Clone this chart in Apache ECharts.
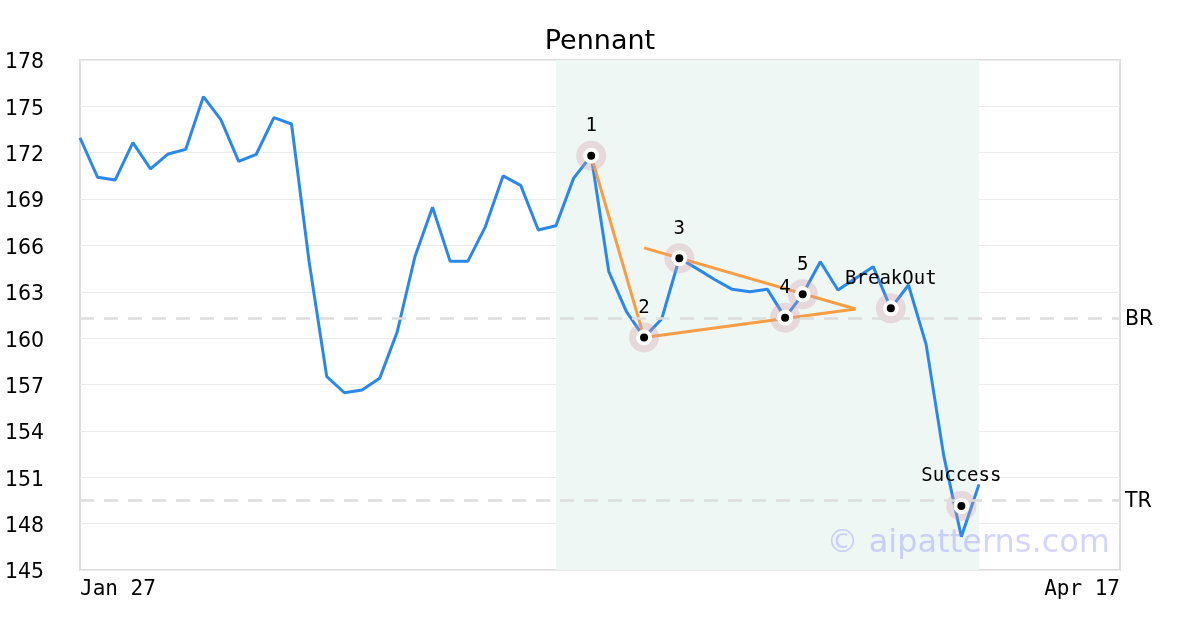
<!DOCTYPE html>
<html>
<head>
<meta charset="utf-8">
<script src="https://cdn.jsdelivr.net/npm/echarts@6/dist/echarts.min.js"></script>
<style>html,body{margin:0;padding:0;background:#fff}#c{width:1200px;height:630px}</style>
</head>
<body>
<div id="c"></div>
<script>
// ---- data ----
const categoryCount = 60;
const categories = Array.from({length: categoryCount}, (_, i) => 'D' + i);
const xTickLabels = {0: 'Jan 27', 59: 'Apr 17'};
const prices = [
  172.97, 170.41, 170.24, 172.65, 170.95, 171.92, 172.22, 175.63, 174.12, 171.44,
  171.90, 174.27, 173.86, 164.93, 157.51, 156.47, 156.65, 157.40, 160.42, 165.27,
  168.47, 164.97, 164.97, 167.22, 170.50, 169.89, 167.00, 167.28, 170.34, 171.81,
  164.30, 161.72, 160.05, 161.24, 165.17, 164.50, 163.80, 163.16, 163.01, 163.16,
  161.33, 162.84, 164.95, 163.12, 163.87, 164.63, 161.93, 163.44, 159.60, 152.40,
  147.15, 150.54
];
const pointIdx = [29, 32, 34, 40, 41, 46, 50];
const pointVal = [171.81, 160.05, 165.17, 161.33, 162.84, 161.93, 149.14];
const pointLabels = ['1', '2', '3', '4', '5', 'BreakOut', 'Success'];
const poleLine = [[29, 171.81], [32, 160.05]];
const lowerLine = [[32, 160.05], [44, 161.89]];
const upperLine = [[32, 165.84], [44, 161.89]];
const levelNames = ['BR', 'TR'];
const levelValues = [161.31, 149.53];
const shadeRange = [27, 51];
const yTicks = {min: 145, max: 178, interval: 3};

// ---- chart ----
const chart = echarts.init(document.getElementById('c'), null, {renderer: 'canvas'});
const points = pointIdx.map((x, i) => [x, pointVal[i]]);
const mono = 'DejaVu Sans Mono';
const sans = 'DejaVu Sans';
const orange = '#f99d45';

const option = {
  animation: false,
  backgroundColor: '#fff',
  title: {
    text: 'Pennant', left: 'center', top: 23,
    textStyle: {fontFamily: sans, fontWeight: 'normal', fontSize: 27, color: '#000'}
  },
  grid: {left: 80, right: 80, top: 60, bottom: 60, show: true, borderColor: '#dddddd', borderWidth: 2, backgroundColor: 'transparent'},
  xAxis: {
    type: 'category', data: categories, boundaryGap: false,
    axisLine: {show: false}, axisTick: {show: false}, splitLine: {show: false},
    axisLabel: {
      interval: 0, margin: 9, fontFamily: mono, fontSize: 21, color: '#000',
      alignMinLabel: 'left', alignMaxLabel: 'right',
      formatter: (v, i) => xTickLabels[i] || ''
    }
  },
  yAxis: {
    type: 'value', min: yTicks.min, max: yTicks.max, interval: yTicks.interval,
    axisLine: {show: false}, axisTick: {show: false},
    splitLine: {show: true, lineStyle: {color: '#eaeaea', width: 1}},
    axisLabel: {align: 'left', verticalAlign: 'top', lineHeight: 6, margin: 75, fontFamily: sans, fontSize: 20.5, color: '#000'}
  },
  graphic: [{
    type: 'text', right: 90, top: 528, z: 100,
    style: {text: '\u00a9 aipatterns.com', font: '32px "DejaVu Sans"', fill: 'rgba(120,120,250,0.32)'}
  }],
  series: [
    {
      type: 'line', data: prices, showSymbol: false, symbol: 'none',
      lineStyle: {color: '#2b87e8', width: 3}, z: 2,
      markArea: {
        silent: true,
        itemStyle: {color: '#eef7f3'},
        data: [[{xAxis: shadeRange[0]}, {xAxis: shadeRange[1]}]]
      },
      markLine: {
        silent: true, symbol: 'none',
        lineStyle: {color: '#dddddd', width: 2.5, type: [14, 10]},
        label: {position: 'end', distance: 5, fontFamily: sans, fontSize: 20.5, color: '#000', verticalAlign: 'top', lineHeight: 4, formatter: p => p.name},
        data: levelValues.map((v, i) => ({yAxis: v, name: levelNames[i]}))
      }
    },
    {type: 'line', data: poleLine, symbol: 'none', lineStyle: {color: orange, width: 3}, z: 3},
    {type: 'line', data: lowerLine, symbol: 'none', lineStyle: {color: orange, width: 3}, z: 3},
    {type: 'line', data: upperLine, symbol: 'none', lineStyle: {color: orange, width: 3}, z: 3},
    {type: 'scatter', data: points, symbol: 'circle', symbolSize: 30, itemStyle: {color: 'rgba(210,150,170,0.3)', opacity: 1}, z: 4},
    {type: 'scatter', data: points, symbol: 'circle', symbolSize: 16, itemStyle: {color: '#ffffff', opacity: 1}, z: 5},
    {
      type: 'scatter', data: points, symbol: 'circle', symbolSize: 8, itemStyle: {color: '#000', opacity: 1}, z: 6,
      label: {
        show: true, position: 'top', distance: 16, fontFamily: mono, fontSize: 19, color: '#000',
        formatter: p => pointLabels[p.dataIndex]
      }
    }
  ]
};
chart.setOption(option);
</script>
</body>
</html>
